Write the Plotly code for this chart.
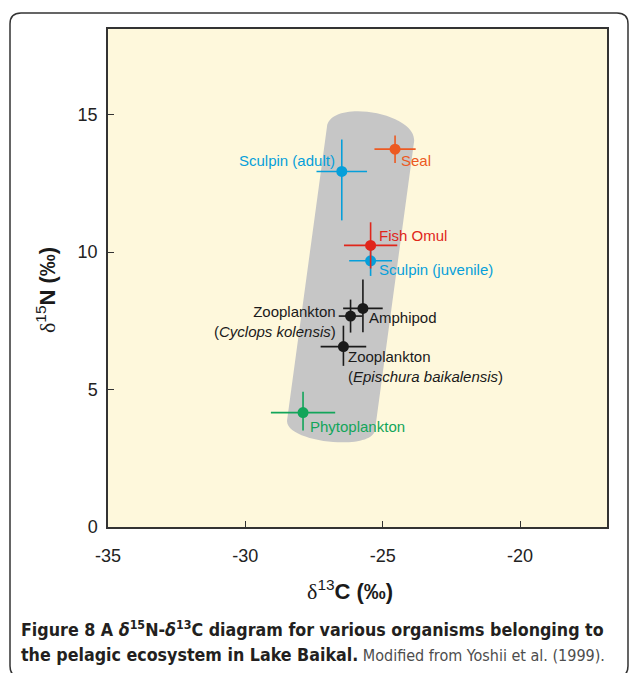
import plotly.graph_objects as go

# ---------------- data ----------------
organisms = ["Phytoplankton", "Zooplankton (Epischura)", "Zooplankton (Cyclops)",
             "Amphipod", "Sculpin (juvenile)", "Fish Omul", "Sculpin (adult)", "Seal"]
d13C = [-27.90, -26.43, -26.17, -25.72, -25.44, -25.44, -26.49, -24.55]
d15N = [4.16, 6.56, 7.67, 7.95, 9.68, 10.24, 12.93, 13.74]
d13C_err = [1.17, 0.83, 0.43, 0.72, 0.78, 0.97, 0.92, 0.75]
d15N_err_plus = [0.76, 0.76, 0.60, 1.05, 0.55, 0.84, 1.16, 0.50]
d15N_err_minus = [0.65, 0.70, 0.60, 0.87, 0.55, 0.84, 1.78, 0.50]
labels = ["Phytoplankton",
          "Zooplankton<br>(<i>Epischura baikalensis</i>)",
          "Zooplankton<br>(<i>Cyclops kolensis</i>)",
          "Amphipod", "Sculpin (juvenile)", "Fish Omul", "Sculpin (adult)", "Seal"]

x_ticks = [-35, -30, -25, -20]
x_tick_text = ["-35", "-30", "-25", "-20"]
y_ticks = [0, 5, 10, 15]
y_tick_text = ["0", "5", "10", "15"]

# grey food-web band outline (data units): TL, top ctrl1, top ctrl2, TR, BR, bottom ctrl1, bottom ctrl2, BL
band_pts = [(-27.03, 14.55), (-26.88, 15.60), (-23.71, 15.05), (-23.86, 14.00),
            (-25.28, 3.53), (-25.39, 2.73), (-28.59, 3.09), (-28.48, 3.89)]

# ---------------- styles ----------------
colors = ["#12a55a", "#1a1a1a", "#1a1a1a", "#1a1a1a", "#069fda", "#e0261b", "#069fda", "#ec5a22"]
# label placement: (xanchor, align, xshift px, yshift px)
label_pos = [("left", "left", 5, -14),
             ("left", "left", 3, -20),
             ("right", "right", -13, -5),
             ("left", "left", 4, -9),
             ("left", "left", 6, -9),
             ("left", "left", 6, 10),
             ("right", "right", -5, 11),
             ("left", "left", 4, -11)]

W, H = 629, 673
ML, MR, MT, MB = 108, 22, 29, 146
PW, PH = W - ML - MR, H - MT - MB

def px_to_paper(px, py):
    return (px - ML) / PW, (H - MB - py) / PH

fig = go.Figure()

for i in range(len(organisms)):
    fig.add_trace(go.Scatter(
        x=[d13C[i]], y=[d15N[i]], mode="markers", name=organisms[i],
        marker=dict(size=11, color=colors[i], line=dict(width=0)),
        error_x=dict(type="data", array=[d13C_err[i]], width=0, thickness=1.6, color=colors[i]),
        error_y=dict(type="data", array=[d15N_err_plus[i]], arrayminus=[d15N_err_minus[i]],
                     symmetric=False, width=0, thickness=1.6, color=colors[i]),
        showlegend=False, hoverinfo="name"))
    xa, al, xs, ys = label_pos[i]
    fig.add_annotation(x=d13C[i], y=d15N[i], text=labels[i], showarrow=False,
                       xanchor=xa, yanchor="middle", align=al, xshift=xs, yshift=ys,
                       font=dict(family="Liberation Sans, Arial", size=15, color=colors[i]))

# band shape
p = band_pts
band_path = (f"M {p[0][0]},{p[0][1]} C {p[1][0]},{p[1][1]} {p[2][0]},{p[2][1]} {p[3][0]},{p[3][1]} "
             f"L {p[4][0]},{p[4][1]} C {p[5][0]},{p[5][1]} {p[6][0]},{p[6][1]} {p[7][0]},{p[7][1]} Z")
fig.add_shape(type="path", path=band_path, xref="x", yref="y", layer="below",
              fillcolor="#c6c6c6", line=dict(width=0))

# outer rounded frame (paper coordinates)
fx0, fy0, fx1, fy1, r = 10, 13, 628, 677, 11
def P(px, py):
    a, b = px_to_paper(px, py)
    return f"{a:.5f},{b:.5f}"
frame = (f"M {P(fx0, fy1 - r)} L {P(fx0, fy0 + r)} Q {P(fx0, fy0)} {P(fx0 + r, fy0)} "
         f"L {P(fx1 - r, fy0)} Q {P(fx1, fy0)} {P(fx1, fy0 + r)} L {P(fx1, fy1 - r)} "
         f"Q {P(fx1, fy1)} {P(fx1 - r, fy1)} L {P(fx0 + r, fy1)} Q {P(fx0, fy1)} {P(fx0, fy1 - r)}")
fig.add_shape(type="path", path=frame, xref="paper", yref="paper",
              line=dict(color="#333333", width=1.5))

# axis titles
delta = '<span style="font-family:Liberation Serif, Times New Roman, serif; font-weight:normal">δ</span>'
tx, ty = px_to_paper(350, 590)
fig.add_annotation(x=tx, y=ty, xref="paper", yref="paper", showarrow=False,
                   text=f"{delta}<sup>13</sup><b>C (‰)</b>",
                   font=dict(family="Liberation Sans, Arial", size=22, color="#1a1a1a"),
                   xanchor="center", yanchor="middle")
tx, ty = px_to_paper(46, 290)
fig.add_annotation(x=tx, y=ty, xref="paper", yref="paper", showarrow=False, textangle=-90,
                   text=f"{delta}<sup>15</sup><b>N (‰)</b>",
                   font=dict(family="Liberation Sans, Arial", size=22, color="#1a1a1a"),
                   xanchor="center", yanchor="middle")

# caption
cap_font = "DejaVu Sans Condensed, Liberation Sans Narrow, Arial Narrow, sans-serif"
cx, cy = px_to_paper(19, 628)
fig.add_annotation(x=cx, y=cy, xref="paper", yref="paper", showarrow=False, xanchor="left",
                   yanchor="middle",
                   text="<b>Figure 8 A <i>δ</i><sup>15</sup>N-<i>δ</i><sup>13</sup>C diagram for various organisms belonging to</b>",
                   font=dict(family=cap_font, size=17.7, color="#231f20"))
cx, cy = px_to_paper(19, 655)
fig.add_annotation(x=cx, y=cy, xref="paper", yref="paper", showarrow=False, xanchor="left",
                   yanchor="middle",
                   text="<b>the pelagic ecosystem in Lake Baikal.</b><span style='color:#4d4d4d; font-size:16px'> Modified from Yoshii et al. (1999).</span>",
                   font=dict(family=cap_font, size=17.7, color="#231f20"))

axis_common = dict(showline=True, mirror=True, linecolor="#333333", linewidth=1.5,
                   ticks="inside", ticklen=6, tickwidth=1.3, tickcolor="#333333",
                   showgrid=False, zeroline=False,
                   tickfont=dict(family="Liberation Sans, Arial", size=18, color="#222222"))
fig.update_xaxes(range=[-35, -35 + PW / 27.47], tickvals=x_ticks, ticktext=x_tick_text,
                 ticklabelstandoff=12, **axis_common)
fig.update_yaxes(range=[0, PH / 27.5], tickvals=y_ticks, ticktext=y_tick_text,
                 ticklabelstandoff=5, **axis_common)

fig.update_layout(width=W, height=H, margin=dict(l=ML, r=MR, t=MT, b=MB, pad=0),
                  paper_bgcolor="white", plot_bgcolor="#fef8dc")

fig.write_html("out.html")
